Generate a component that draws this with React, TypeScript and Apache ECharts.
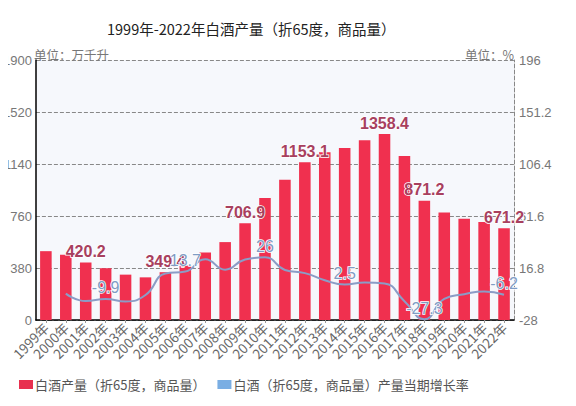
import React, { useEffect, useRef } from "react";
import * as echarts from "echarts";

const years = [
  "1999年", "2000年", "2001年", "2002年", "2003年", "2004年", "2005年", "2006年",
  "2007年", "2008年", "2009年", "2010年", "2011年", "2012年", "2013年", "2014年",
  "2015年", "2016年", "2017年", "2018年", "2019年", "2020年", "2021年", "2022年",
];
const production = [
  503.0, 476.1, 420.2, 378.5, 331.5, 311.7, 349.4, 397.1,
  493.9, 569.3, 706.9, 890.8, 1025.6, 1153.1, 1226.2, 1257.1,
  1312.8, 1358.4, 1198.1, 871.2, 785.9, 740.7, 715.6, 671.2,
];
const growth: (number | null)[] = [
  null, -5.3, -11.7, -9.9, -12.0, -6.5, 12.1, 13.7,
  24.4, 15.3, 24.2, 26, 15.1, 12.4, 6.3, 2.5,
  4.4, 3.5, -11.8, -27.3, -9.8, -5.8, -3.4, -6.2,
];
const productionLabelIdx = [2, 6, 10, 13, 17, 19, 23];
const growthLabelIdx = [3, 7, 11, 15, 19, 23];
const leftTicks = { min: 0, max: 1900, interval: 380 };
const rightTicks = { min: -28, max: 196, interval: 44.8 };
const titleText = "1999年-2022年白酒产量（折65度，商品量）";
const barName = "白酒产量（折65度，商品量）";
const lineName = "白酒（折65度，商品量）产量当期增长率";

const FONT = "'Noto Sans CJK SC', 'Noto Sans', sans-serif";
const NUM_FONT = "'Liberation Sans', Arial, sans-serif";

export default function App() {
  const ref = useRef<HTMLDivElement>(null);
  useEffect(() => {
    const chart = echarts.init(ref.current!, undefined, { renderer: "svg" });
    chart.setOption({
      animation: false,
      textStyle: { fontFamily: FONT },
      title: {
        text: titleText,
        left: 102,
        top: 16,
        textStyle: { fontSize: 14.5, fontWeight: "normal", color: "#222", fontFamily: FONT },
      },
      legend: {
        left: 14,
        top: 373,
        itemWidth: 14,
        itemHeight: 9,
        itemGap: 12,
        icon: "rect",
        textStyle: { fontSize: 13, color: "#555", fontFamily: FONT, padding: [0, 0, 0, -3] },
        data: [
          { name: barName, itemStyle: { color: "#e8304f" } },
          { name: lineName, itemStyle: { color: "#7aaee3", opacity: 1 } },
        ],
      },
      grid: {
        left: 33,
        right: 62,
        top: 60,
        bottom: 86,
        show: true,
        backgroundColor: "#f6f8fc",
        borderWidth: 0,
      },
      xAxis: {
        type: "category",
        data: years,
        axisLine: { lineStyle: { color: "#000", width: 1.5 } },
        axisTick: { show: true, alignWithLabel: true, length: 3, lineStyle: { color: "#999" } },
        axisLabel: { rotate: 45, fontSize: 13.5, color: "#666", margin: 5, interval: 0 },
      },
      yAxis: [
        {
          type: "value",
          ...leftTicks,
          name: "单位：万千升",
          nameLocation: "end",
          nameGap: 6,
          nameMoveOverlap: false,
          nameTextStyle: {
            align: "left", verticalAlign: "middle", fontSize: 12.5, color: "#777",
            padding: [0, 0, 0, -2],
          },
          axisLine: { show: true, lineStyle: { color: "#000", width: 1.5 } },
          axisTick: { show: false },
          axisLabel: {
            fontSize: 13, color: "#777", margin: 4, verticalAlign: "middle", fontFamily: NUM_FONT,
            padding: [0, 0, 8, 0], formatter: (v: number) => String(v),
          },
          splitLine: { show: true, lineStyle: { type: "dashed", color: "#888" } },
        },
        {
          type: "value",
          ...rightTicks,
          name: "单位：%",
          nameLocation: "end",
          nameGap: 6,
          nameMoveOverlap: false,
          nameTextStyle: {
            align: "right", verticalAlign: "middle", fontSize: 12.5, color: "#777",
          },
          axisLine: { show: true, lineStyle: { color: "#888", type: "dashed" } },
          axisTick: { show: false },
          axisLabel: {
            fontSize: 13, color: "#777", margin: 5, verticalAlign: "middle", fontFamily: NUM_FONT,
            padding: [0, 0, 8, 0], formatter: (v: number) => String(Math.round(v * 10) / 10),
          },
          splitLine: { show: false },
        },
      ],
      series: [
        {
          name: barName,
          type: "bar",
          yAxisIndex: 0,
          barWidth: "58%",
          itemStyle: { color: "#f0304f" },
          data: production.map((v, i) => ({
            value: v,
            label: { show: productionLabelIdx.includes(i) },
          })),
          label: {
            position: "top",
            distance: 3,
            fontSize: 16,
            fontWeight: "bold",
            color: "#a8405e",
            fontFamily: NUM_FONT,
            textBorderColor: "#fff",
            textBorderWidth: 1.5,
          },
        },
        {
          name: lineName,
          type: "line",
          yAxisIndex: 1,
          smooth: true,
          symbol: "circle",
          symbolSize: 0.1,
          showSymbol: true,
          lineStyle: { color: "#8b9cc6", width: 2 },
          itemStyle: { color: "#8b9cc6" },
          data: growth.map((v, i) => ({
            value: v,
            label: { show: growthLabelIdx.includes(i) },
          })),
          label: {
            show: false,
            position: "top",
            distance: 3,
            fontSize: 16,
            color: "#7f9cc4",
            fontFamily: NUM_FONT,
            textBorderColor: "#fff",
            textBorderWidth: 1.5,
          },
        },
      ],
    });
    return () => chart.dispose();
  }, []);
  return <div ref={ref} style={{ width: 576, height: 406, margin: -8 }} />;
}
